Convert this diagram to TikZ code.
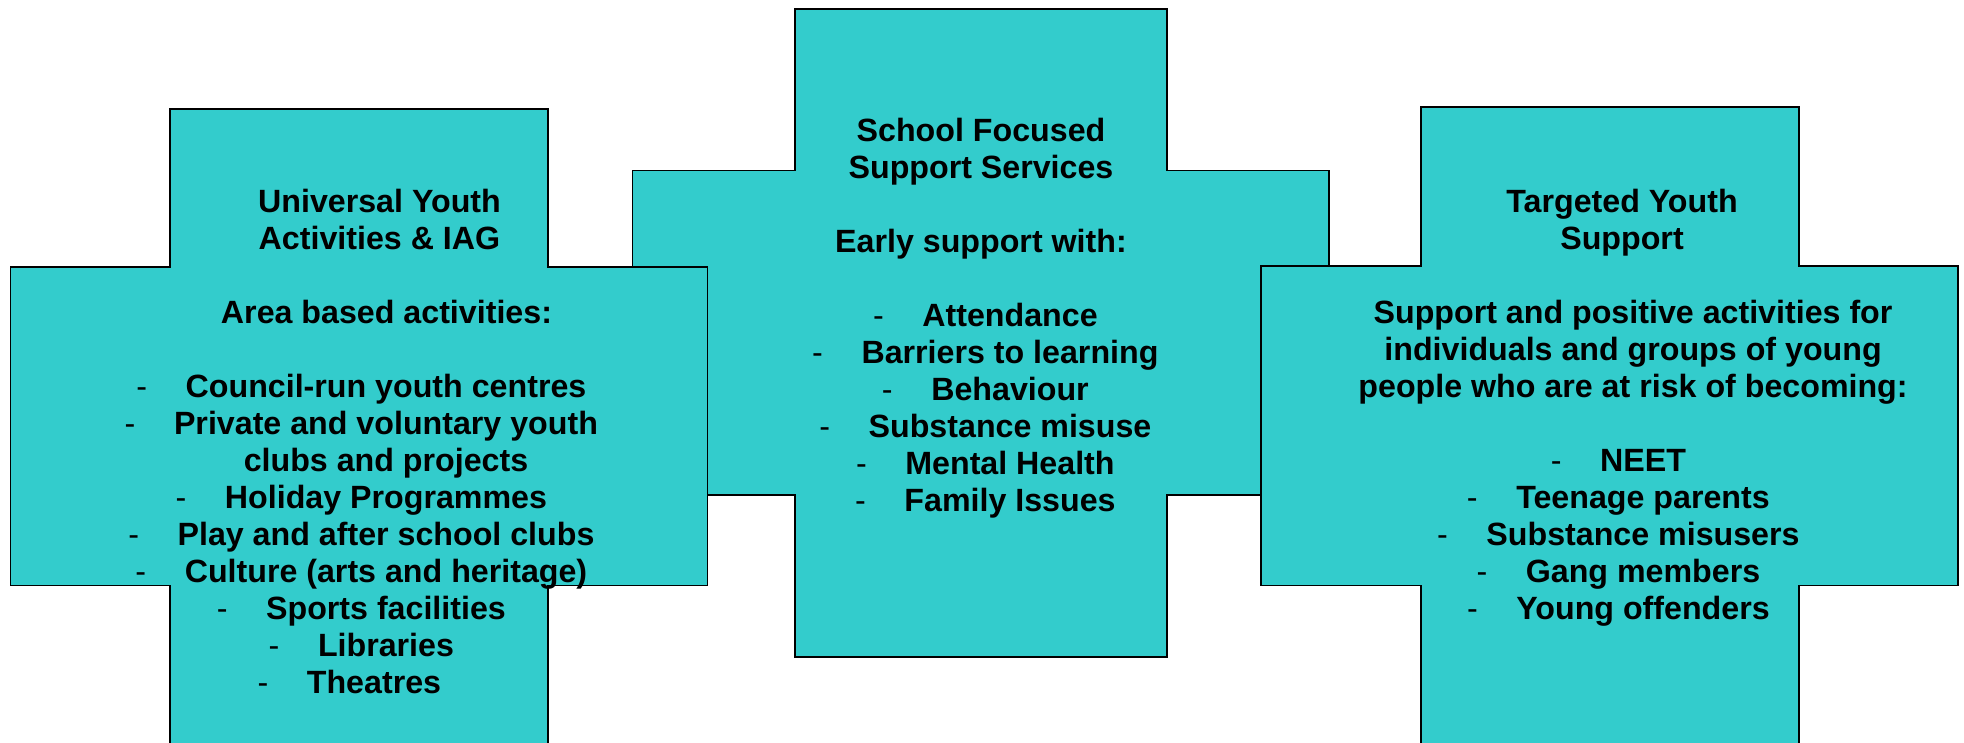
\documentclass[tikz,border=0pt]{standalone}
\usepackage{fontspec}
\setmainfont{Liberation Sans}
\usetikzlibrary{shapes.geometric}
\definecolor{turq}{RGB}{51,204,204}
\tikzstyle{crossbox} = [draw=black, fill=turq, line width=0.5pt]
\tikzstyle{boxtext} = [inner sep=0pt, text height=0.72em, text depth=0pt, font=\fontsize{9.16pt}{10.5pt}\selectfont\bfseries]
\newcommand{\itm}{\llap{\mdseries-\hspace{0.386cm}}}

\begin{document}
\begin{tikzpicture}[node distance=0.37cm]

\clip (0,0) rectangle (19.64,-7.43);

% Crosses (middle one behind)
\draw [crossbox] (7.947,-0.087) -- (11.673,-0.087) -- (11.673,-1.704) -- (13.29,-1.704) -- (13.29,-4.95) -- (11.673,-4.95) -- (11.673,-6.573) -- (7.947,-6.573) -- (7.947,-4.95) -- (6.326,-4.95) -- (6.326,-1.704) -- (7.947,-1.704) -- cycle;
\draw [crossbox] (1.70,-1.09) -- (5.48,-1.09) -- (5.48,-2.673) -- (7.075,-2.673) -- (7.075,-5.855) -- (5.48,-5.855) -- (5.48,-7.60) -- (1.70,-7.60) -- (1.70,-5.855) -- (0.105,-5.855) -- (0.105,-2.673) -- (1.70,-2.673) -- cycle;
\draw [crossbox] (14.207,-1.067) -- (17.987,-1.067) -- (17.987,-2.66) -- (19.577,-2.66) -- (19.577,-5.855) -- (17.987,-5.855) -- (17.987,-7.60) -- (14.207,-7.60) -- (14.207,-5.855) -- (12.613,-5.855) -- (12.613,-2.66) -- (14.207,-2.66) -- cycle;

% Universal side
\node (L1) [boxtext] at (3.795,-2.00) {Universal Youth};
\node (L2) [boxtext, below of=L1] {Activities \& IAG};
\node (L3) [boxtext, below of=L2, yshift=-0.37cm, xshift=0.07cm] {Area based activities:};
\node (L4) [boxtext, below of=L3, yshift=-0.37cm, xshift=-0.005cm] {\itm Council-run youth centres};
\node (L5) [boxtext, below of=L4] {\itm Private and voluntary youth};
\node (L6) [boxtext, below of=L5] {clubs and projects};
\node (L7) [boxtext, below of=L6] {\itm Holiday Programmes};
\node (L8) [boxtext, below of=L7] {\itm Play and after school clubs};
\node (L9) [boxtext, below of=L8] {\itm Culture (arts and heritage)};
\node (L10) [boxtext, below of=L9] {\itm Sports facilities};
\node (L11) [boxtext, below of=L10] {\itm Libraries};
\node (L12) [boxtext, below of=L11, xshift=-0.12cm] {\itm Theatres};

% School side
\node (M1) [boxtext] at (9.81,-1.29) {School Focused};
\node (M2) [boxtext, below of=M1] {Support Services};
\node (M3) [boxtext, below of=M2, yshift=-0.37cm] {Early support with:};
\node (M4) [boxtext, below of=M3, yshift=-0.37cm, xshift=0.29cm] {\itm Attendance};
\node (M5) [boxtext, below of=M4] {\itm Barriers to learning};
\node (M6) [boxtext, below of=M5] {\itm Behaviour};
\node (M7) [boxtext, below of=M6] {\itm Substance misuse};
\node (M8) [boxtext, below of=M7] {\itm Mental Health};
\node (M9) [boxtext, below of=M8] {\itm Family Issues};

% Targeted side
\node (R1) [boxtext] at (16.22,-2.00) {Targeted Youth};
\node (R2) [boxtext, below of=R1] {Support};
\node (R3) [boxtext, below of=R2, yshift=-0.37cm, xshift=0.11cm] {Support and positive activities for};
\node (R4) [boxtext, below of=R3] {individuals and groups of young};
\node (R5) [boxtext, below of=R4] {people who are at risk of becoming:};
\node (R6) [boxtext, below of=R5, yshift=-0.37cm, xshift=0.10cm] {\itm NEET};
\node (R7) [boxtext, below of=R6] {\itm Teenage parents};
\node (R8) [boxtext, below of=R7] {\itm Substance misusers};
\node (R9) [boxtext, below of=R8] {\itm Gang members};
\node (R10) [boxtext, below of=R9] {\itm Young offenders};

\end{tikzpicture}
\end{document}
